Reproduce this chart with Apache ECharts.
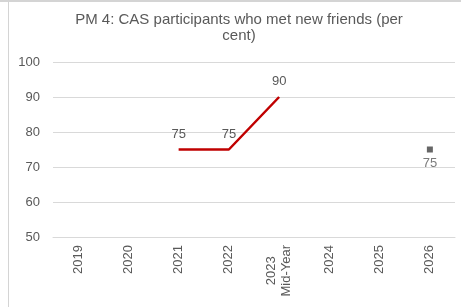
<!DOCTYPE html>
<html>
<head>
<meta charset="utf-8">
<script src="https://cdn.jsdelivr.net/npm/echarts@6/dist/echarts.min.js"></script>
<style>
  html, body { margin: 0; padding: 0; background: #fff; }
  #chart { width: 461px; height: 307px; }
</style>
</head>
<body>
<div id="chart"></div>
<script>
var years = ['2019', '2020', '2021', '2022', '2023\nMid-Year', '2024', '2025', '2026'];
var actual = [null, null, 75, 75, 90, null, null, null];
var target = ['-', '-', '-', '-', '-', '-', '-', 75];
var yTicks = { min: 50, max: 100, step: 10 };
var titleText = 'PM 4: CAS participants who met new friends (per\ncent)';

var chart = echarts.init(document.getElementById('chart'));

var option = {
    animation: false,
    textStyle: { fontFamily: 'Liberation Sans, Arial, sans-serif' },
    graphic: [
        { type: 'rect', x: 0, y: 0, shape: { width: 461, height: 2 }, style: { fill: '#d4d4d4' } },
        { type: 'rect', x: 8, y: 2, shape: { width: 1, height: 305 }, style: { fill: '#d4d4d4' } },
        {
            type: 'text', x: 239, y: 12,
            style: {
                text: titleText,
                align: 'center',
                verticalAlign: 'top',
                fill: '#595959',
                fontSize: 15,
                lineHeight: 16,
                fontFamily: 'Liberation Sans, Arial, sans-serif'
            }
        }
    ],
    grid: { left: 53, right: 6, top: 62, bottom: 70 },
    xAxis: {
        type: 'category',
        data: years,
        boundaryGap: true,
        axisLine: { lineStyle: { color: '#d9d9d9', width: 1 } },
        axisTick: { show: false },
        axisLabel: {
            rotate: 90,
            margin: 8,
            interval: 0,
            color: '#595959',
            fontSize: 13,
            formatter: function (v) {
                return v.split('\n').map(function (s) { return '{c|' + s + '}'; }).join('\n');
            },
            rich: { c: { align: 'center', fontSize: 13, color: '#595959', lineHeight: 15 } }
        }
    },
    yAxis: {
        type: 'value',
        min: yTicks.min,
        max: yTicks.max,
        interval: yTicks.step,
        axisLine: { show: false },
        axisTick: { show: false },
        axisLabel: { color: '#595959', fontSize: 13, margin: 13 },
        splitLine: { lineStyle: { color: '#d9d9d9', width: 1 } }
    },
    series: [
        {
            type: 'line',
            data: actual,
            symbol: 'circle',
            symbolSize: 0.1,
            lineStyle: { color: '#c00000', width: 2.5 },
            itemStyle: { color: '#c00000' },
            label: { show: true, position: 'top', distance: 9, color: '#595959', fontSize: 13 }
        },
        {
            type: 'scatter',
            data: target,
            symbol: 'rect',
            symbolSize: 6,
            itemStyle: { color: '#404040' },
            label: { show: true, position: 'bottom', distance: 4, color: '#595959', fontSize: 13 }
        }
    ]
};
chart.setOption(option);
</script>
</body>
</html>
